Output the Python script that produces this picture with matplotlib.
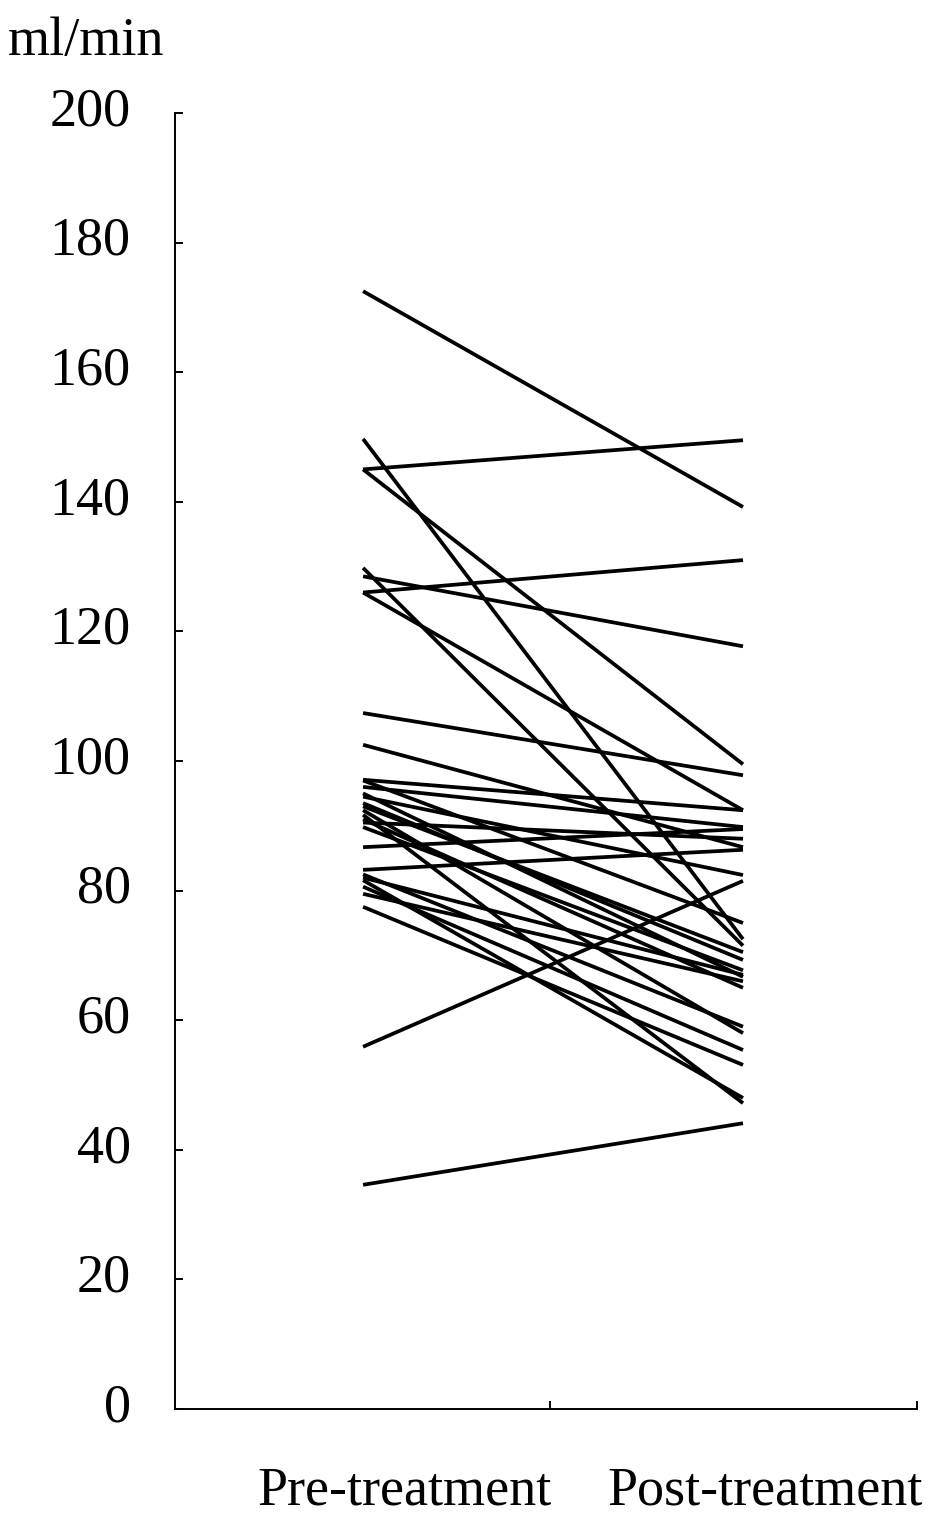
import matplotlib.pyplot as plt
from matplotlib.transforms import blended_transform_factory, ScaledTranslation

""" 
Paired plot of clearance (ml/min) before and after treatment,
one line per patient
"""

pre_treatment = [172.5, 149.7, 145.0, 145.0, 129.8, 128.5, 126.0, 126.0,
                 107.4, 102.5, 97.1, 97.0, 96.0, 95.0, 94.5, 93.5, 92.4,
                 91.7, 91.0, 89.8, 86.7, 83.2, 82.5, 81.6, 80.6, 79.5,
                 77.5, 55.9, 34.6, 93.0, 90.5, 82.0]
post_treatment = [139.2, 72.5, 149.5, 99.5, 71.5, 117.7, 131.0, 92.4,
                  97.8, 86.7, 92.4, 75.0, 89.8, 66.7, 82.4, 69.3, 58.0,
                  47.2, 65.0, 67.7, 89.5, 86.3, 59.0, 48.0, 55.4, 66.0,
                  53.1, 81.5, 44.1, 70.5, 88.0, 67.0]
group_labels = ["Pre-treatment", "Post-treatment"]
y_ticks = list(range(0, 201, 20))

plt.rcParams['font.family'] = ['Liberation Serif', 'DejaVu Serif']

font_size = 39
line_width = 2.7
axis_width = 1.4

fig = plt.figure(figsize=(9.45, 15.19), dpi=100)
ax = fig.add_axes([175 / 945, 110 / 1519, 742 / 945, 1296 / 1519])

x_pre, x_post = 0, 1
for before, after in zip(pre_treatment, post_treatment):
    ax.plot([x_pre, x_post], [before, after], color='black',
            linewidth=line_width, solid_capstyle='butt')

ax.set_xlim(-0.495, 1.458)
ax.set_ylim(0, 200)

# Remove top and right borders
ax.spines['right'].set_color('none')
ax.spines['top'].set_color('none')
for side in ('left', 'bottom'):
    ax.spines[side].set_linewidth(axis_width)

ax.set_yticks(y_ticks)
ax.tick_params(axis='y', direction='in', length=6, width=axis_width,
               pad=32, labelsize=font_size)
# Tick labels sit slightly above their ticks in the original
shift_up = ScaledTranslation(0, 7 / 100, fig.dpi_scale_trans)
for label in ax.get_yticklabels():
    label.set_transform(label.get_transform() + shift_up)
ax.set_xticks([0.492, 1.458])
ax.set_xticklabels([])
ax.tick_params(axis='x', direction='in', length=6, width=axis_width)

# Group labels under the axis
trans = blended_transform_factory(ax.transData, ax.transAxes)
for x_label, text in zip([0.11, 1.058], group_labels):
    ax.text(x_label, -0.0635, text, transform=trans, ha='center',
            va='center', fontsize=font_size)

fig.text(8 / 945, 1 - 42 / 1519, "ml/min", ha='left', va='center',
         fontsize=font_size)

fig.savefig("out.png", dpi=100)
plt.close(fig)
